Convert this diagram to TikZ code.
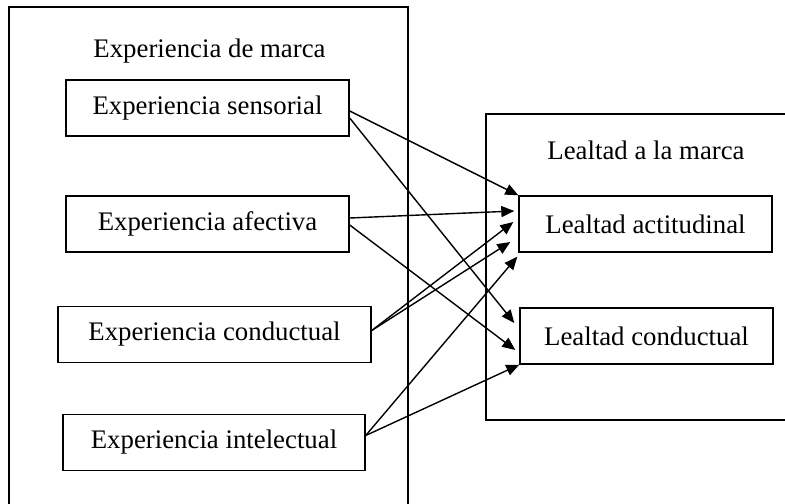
\documentclass[tikz,border=0pt]{standalone}
\usepackage{fontspec}
\setmainfont{Liberation Serif}
\usetikzlibrary{arrows.meta,calc}
\begin{document}
\begin{tikzpicture}[x=0.5pt,y=-0.5pt,
  txt/.style={font=\fontsize{13.4}{16}\selectfont},
  box/.style={txt,draw,line width=0.7pt,rectangle,minimum height=28pt,inner sep=0pt},
  frame/.style={draw,line width=0.7pt},
  link/.style={line width=0.7pt,-{Triangle[length=6.5pt,width=5.5pt]}}]
\useasboundingbox (0,0) rectangle (785,503);
\clip (0,0) rectangle (785,503);

% outer groups
\draw[frame] (9,7) rectangle (408,530);
\draw[frame] (486,114) rectangle (800,420);
\node[txt,anchor=base] (tleft) at (209.5,57) {Experiencia de marca};
\node[txt,anchor=base] (tright) at (646,159) {Lealtad a la marca};

% dimensions
\node[box,minimum width=141.5pt] (sens) at (207.5,108) {Experiencia sensorial};
\node[box,minimum width=141.5pt] (afec) at (207.5,224) {Experiencia afectiva};
\node[box,minimum width=156.5pt] (cond) at (214.5,334.5) {Experiencia conductual};
\node[box,minimum width=151pt] (inte) at (214,442.5) {Experiencia intelectual};
\node[box,minimum width=126.5pt] (act) at (645.5,224) {Lealtad actitudinal};
\node[box,minimum width=126.5pt] (lcon) at (646.5,336) {Lealtad conductual};

% links
\draw[link] ($(sens.east)+(0,3)$) -- (act.north west);
\draw[link] ($(sens.east)+(0,10)$) -- ($(lcon.west)+(-5,-13)$);
\draw[link] ($(afec.east)+(0,-6)$) -- ($(act.west)+(-4,-13)$);
\draw[link] ($(afec.east)+(0,1)$) -- ($(lcon.west)+(-4,14)$);
\draw[link] ($(cond.east)+(0,-4)$) -- ($(act.west)+(-5,-2)$);
\draw[link] ($(cond.east)+(0,-4)$) -- ($(act.west)+(-8,18)$);
\draw[link] ($(inte.east)+(0,-7)$) -- ($(act.south west)+(-1,4)$);
\draw[link] ($(inte.east)+(0,-7)$) -- (lcon.south west);
\end{tikzpicture}
\end{document}
